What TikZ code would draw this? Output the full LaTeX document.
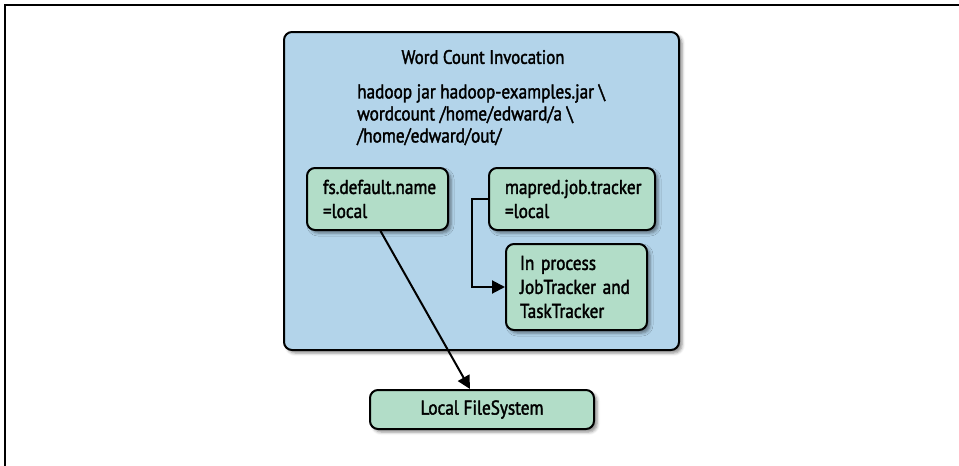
\documentclass[tikz,border=0pt]{standalone}
\usepackage{fontspec}
\setmainfont{PT Sans}[FakeStretch=0.86,FakeBold=1.8]
\usetikzlibrary{shadows.blur,arrows.meta,calc}
\definecolor{boxblue}{RGB}{179,212,234}
\definecolor{boxgreen}{RGB}{178,221,200}
\tikzset{
  rbox/.style={draw=black, line width=2pt, rounded corners=8pt,
    blur shadow={shadow xshift=3pt, shadow yshift=-3pt, shadow blur radius=3pt, shadow opacity=45}},
  gbox/.style={rbox, fill=boxgreen, align=left, inner ysep=0pt, font=\fontsize{20}{24}\selectfont},
  conn/.style={line width=2pt, -{Triangle[length=13pt,width=13pt]}},
}
\begin{document}
\begin{tikzpicture}[x=1pt,y=-1pt]
\useasboundingbox (0,0) rectangle (959,466);
\draw[line width=1.5pt] (5,466) -- (5,5) -- (959,5);
\node[rbox, fill=boxblue, minimum width=395pt, minimum height=318pt] (outer) at (481.5,191) {};
\node[font=\fontsize{19.5}{22}\selectfont] (title) at (483,57) {Word Count Invocation};
\node[anchor=north west, align=left, inner sep=0pt, font=\fontsize{20}{22}\selectfont] (cmd) at (357,84)
  {hadoop jar hadoop-examples.jar \textbackslash\\ wordcount /home/edward/a \textbackslash\\ /home/edward/out/};
\node[gbox, inner xsep=16pt, text width=109pt, minimum height=62pt] (fs) at (377.5,199) {fs.default.name\\=local};
\node[gbox, inner xsep=16pt, text width=134pt, minimum height=62pt] (mapred) at (572,199) {mapred.job.tracker\\=local};
\node[gbox, inner xsep=14pt, text width=113pt, minimum height=86pt] (inproc) at (576.5,287) {In process\\JobTracker and\\TaskTracker};
\node[gbox, align=center, inner xsep=0pt, minimum width=224pt, minimum height=39pt] (lfs) at (482,409.5) {Local FileSystem};
\draw[conn] (mapred.west) -- ++(-16,0) |- (inproc.west);
\draw[conn] ($(fs.south)+(3,0)$) -- ($(lfs.north)+(-12,0)$);
\end{tikzpicture}
\end{document}
